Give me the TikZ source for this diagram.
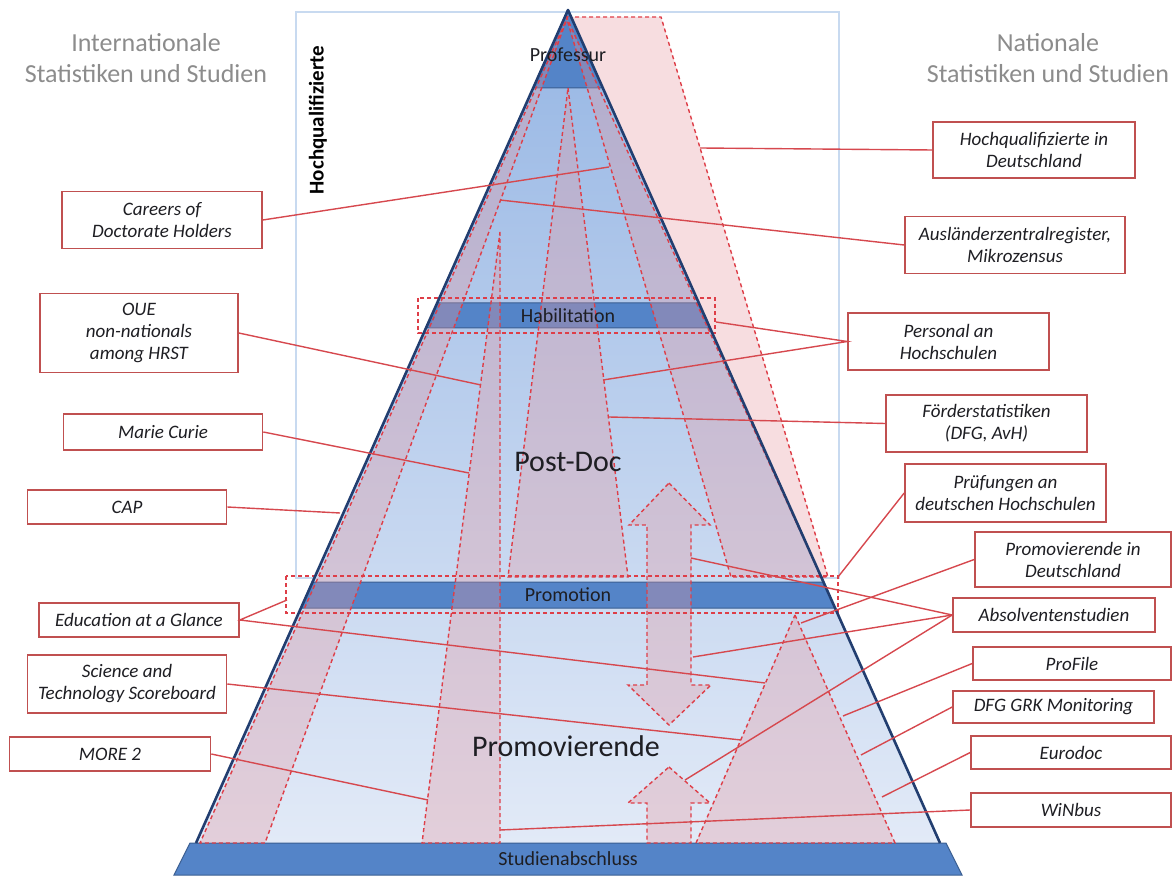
\documentclass[tikz,border=0pt]{standalone}
\usepackage{fontspec}
\setmainfont{Carlito}
\usepackage{tikz}

\definecolor{pyrtop}{RGB}{150,182,228}
\definecolor{pyrbot}{RGB}{226,234,247}
\definecolor{bandblue}{RGB}{84,132,200}
\definecolor{banddark}{RGB}{58,94,145}
\definecolor{pyredge}{RGB}{34,62,112}
\definecolor{framebl}{RGB}{200,218,240}
\definecolor{zonered}{RGB}{222,62,72}
\definecolor{zonefill}{RGB}{230,150,158}
\definecolor{linkred}{RGB}{214,72,78}
\definecolor{boxred}{RGB}{192,80,80}
\definecolor{headgray}{RGB}{140,140,140}
\definecolor{txt}{RGB}{30,30,35}

\begin{document}
\begin{tikzpicture}[x=0.5pt,y=-0.5pt,
    src/.style={draw=boxred,line width=0.8pt,fill=white,align=center,inner sep=1pt,
      text=txt,font=\fontsize{9.5}{11}\selectfont\itshape},
    link/.style={draw=linkred,line width=0.7pt},
    zone/.style={draw=zonered,line width=0.7pt,dash pattern=on 2pt off 1.5pt,
      fill=zonefill,fill opacity=0.32},
    fence/.style={draw=zonered,line width=0.7pt,dash pattern=on 2pt off 1.5pt},
    band/.style={fill=bandblue,draw=banddark,line width=0.5pt},
    stage/.style={text=txt,font=\fontsize{10}{12}\selectfont},
    head/.style={text=headgray,align=center,font=\fontsize{13}{15.5}\selectfont}]
  \useasboundingbox (0,0) rectangle (1172,876);

  % frame and zone behind the pyramid
  \draw[framebl,line width=1pt] (296,12) rectangle (839,578);
  \draw[zone] (568,17) -- (661,17) -- (828,577) -- (821,577) -- cycle;

  % pyramid
  \shade[top color=pyrtop,bottom color=pyrbot] (568,10) -- (940,843) -- (196,843) -- cycle;
  \filldraw[band] (568,10) -- (603,88) -- (533,88) -- cycle;
  \filldraw[band] (437,303) -- (699,303) -- (710,328) -- (426,328) -- cycle;
  \filldraw[band] (313,582) -- (823,582) -- (835,608) -- (301,608) -- cycle;
  \filldraw[band] (190,843) -- (946,843) -- (962,875) -- (174,875) -- cycle;

  % zones inside
  \draw[zone] (568,16) -- (200,843) -- (265,843) -- cycle;
  \draw[zone] (500,232) -- (500,843) -- (422,843) -- cycle;
  \draw[zone] (568,88) -- (628,577) -- (508,577) -- cycle;
  \draw[zone] (566,16) -- (821,577) -- (731,577) -- cycle;
  \draw[zone] (669,483) -- (710,525) -- (691,525) -- (691,685) -- (711,685) -- (669,725)
    -- (628,685) -- (647,685) -- (647,525) -- (629,525) -- cycle;
  \draw[zone] (669,767) -- (710,803) -- (691,803) -- (691,843) -- (647,843) -- (647,803)
    -- (628,803) -- cycle;
  \draw[zone] (795,615) -- (895,843) -- (696,843) -- cycle;
  \draw[fence] (418,298) rectangle (715,333);
  \draw[fence] (286,576) rectangle (838,613);
  \draw[pyredge,line width=1.3pt,line join=round] (196,843) -- (568,10) -- (940,843);

  \foreach \t/\y in {Professur/55,Habilitation/316,Promotion/595,Studienabschluss/859}
    \node[stage] (\t) at (568,\y) {\t};
  \node[text=txt,font=\fontsize{15}{17}\selectfont] (postdoc) at (568,462) {Post-Doc};
  \node[text=txt,font=\fontsize{15}{17}\selectfont] (promo) at (566,746) {Promovierende};
  \node[rotate=90,text=black,font=\bfseries\fontsize{10.5}{12}\selectfont] (hq) at (318,120) {Hochqualifizierte};

  \node[head] (intl) at (146,58) {Internationale\\Statistiken und Studien};
  \node[head] (natl) at (1048,58) {Nationale\\Statistiken und Studien};

  % international sources
  \node[src,minimum width=100pt,minimum height=28.5pt] (cdh) at (162,220) {Careers of\\Doctorate Holders};
  \node[src,minimum width=99pt,minimum height=39.5pt] (oue) at (139,333) {OUE\\non-nationals\\among HRST};
  \node[src,minimum width=99.5pt,minimum height=18pt] (mc) at (163,432) {Marie Curie};
  \node[src,minimum width=99.5pt,minimum height=17pt] (cap) at (127,507) {CAP};
  \node[src,minimum width=100pt,minimum height=17pt] (eag) at (139,620) {Education at a Glance};
  \node[src,minimum width=99.5pt,minimum height=29pt] (sts) at (127,684) {Science and\\Technology Scoreboard};
  \node[src,minimum width=100.5pt,minimum height=17pt] (more) at (110,754) {MORE 2};

  % national sources
  \node[src,minimum width=101pt,minimum height=28pt] (hqd) at (1034,150) {Hochqualifizierte in\\Deutschland};
  \node[src,minimum width=110pt,minimum height=28.5pt] (azr) at (1015,245) {Ausländerzentralregister,\\Mikrozensus};
  \node[src,minimum width=100.5pt,minimum height=28.5pt] (pah) at (948.5,341.5) {Personal an\\Hochschulen};
  \node[src,minimum width=100.5pt,minimum height=28.5pt] (foe) at (986.5,423.5) {Förderstatistiken\\(DFG, AvH)};
  \node[src,minimum width=100.5pt,minimum height=29pt] (pdh) at (1005.5,493) {Prüfungen an\\deutschen Hochschulen};
  \node[src,minimum width=98pt,minimum height=27.5pt] (pid) at (1073,559.5) {Promovierende in\\Deutschland};
  \node[src,minimum width=101pt,minimum height=17pt] (abs) at (1054,615) {Absolventenstudien};
  \node[src,minimum width=99pt,minimum height=16.5pt] (pro) at (1072,663.5) {ProFile};
  \node[src,minimum width=100.5pt,minimum height=16pt] (grk) at (1053.5,707) {DFG GRK Monitoring};
  \node[src,minimum width=100pt,minimum height=16.5pt] (euro) at (1071,752.5) {Eurodoc};
  \node[src,minimum width=100pt,minimum height=17pt] (win) at (1071,810) {WiNbus};

  % link ends
  \coordinate (c1) at (609,167);
  \coordinate (c2) at (481,385);
  \coordinate (c3) at (469,473);
  \coordinate (c4) at (340,513);
  \coordinate (c5) at (287,600);
  \coordinate (c6) at (765,683);
  \coordinate (c7) at (741,740);
  \coordinate (c8) at (428,800);
  \coordinate (n1) at (700,148);
  \coordinate (n2) at (500,200);
  \coordinate (n3) at (716,322);
  \coordinate (n4) at (603,380);
  \coordinate (n5) at (609,417);
  \coordinate (n6) at (838,577);
  \coordinate (n7) at (801,623);
  \coordinate (n8) at (691,558);
  \coordinate (n9) at (693,657);
  \coordinate (n10) at (685,780);
  \coordinate (n11) at (843,716);
  \coordinate (n12) at (861,755);
  \coordinate (n13) at (882,797);
  \coordinate (n14) at (500,830);

  \draw[link] (cdh.east) -- (c1);
  \draw[link] (oue.east) -- (c2);
  \draw[link] (mc.east) -- (c3);
  \draw[link] (cap.east) -- (c4);
  \draw[link] (c5) -- (eag.east) -- (c6);
  \draw[link] (sts.east) -- (c7);
  \draw[link] (more.east) -- (c8);
  \draw[link] (hqd.west) -- (n1);
  \draw[link] (azr.west) -- (n2);
  \draw[link] (n3) -- (pah.west) -- (n4);
  \draw[link] (foe.west) -- (n5);
  \draw[link] (pdh.west) -- (n6);
  \draw[link] (pid.west) -- (n7);
  \draw[link] (abs.west) -- (n8);
  \draw[link] (abs.west) -- (n9);
  \draw[link] (abs.west) -- (n10);
  \draw[link] (pro.west) -- (n11);
  \draw[link] (grk.west) -- (n12);
  \draw[link] (euro.west) -- (n13);
  \draw[link] (win.west) -- (n14);
\end{tikzpicture}
\end{document}
